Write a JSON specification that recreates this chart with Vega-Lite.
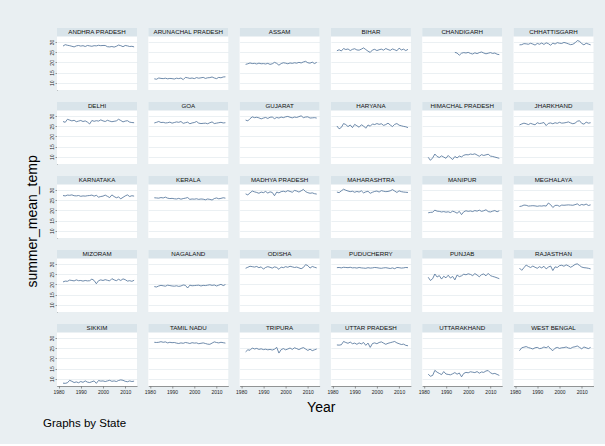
{
"$schema":"https://vega.github.io/schema/vega-lite/v6.json",
"background":"#e9eff2",
"padding":{"left":25,"top":27,"right":11,"bottom":14},
"title":{"text":"Graphs by State","orient":"bottom","anchor":"start","fontSize":11.5,"font":"Liberation Sans","fontWeight":"normal","color":"#000","offset":3,"dx":17},
"datasets":{"temps":[
{"State":"ANDHRA PRADESH","Year":1982,"t":28.0},{"State":"ANDHRA PRADESH","Year":1983,"t":28.7},{"State":"ANDHRA PRADESH","Year":1984,"t":28.4},{"State":"ANDHRA PRADESH","Year":1985,"t":28.2},{"State":"ANDHRA PRADESH","Year":1986,"t":27.9},{"State":"ANDHRA PRADESH","Year":1987,"t":27.6},{"State":"ANDHRA PRADESH","Year":1988,"t":28.1},{"State":"ANDHRA PRADESH","Year":1989,"t":28.3},{"State":"ANDHRA PRADESH","Year":1990,"t":28.0},{"State":"ANDHRA PRADESH","Year":1991,"t":28.2},{"State":"ANDHRA PRADESH","Year":1992,"t":27.8},{"State":"ANDHRA PRADESH","Year":1993,"t":28.3},{"State":"ANDHRA PRADESH","Year":1994,"t":28.1},{"State":"ANDHRA PRADESH","Year":1995,"t":27.9},{"State":"ANDHRA PRADESH","Year":1996,"t":28.2},{"State":"ANDHRA PRADESH","Year":1997,"t":28.1},{"State":"ANDHRA PRADESH","Year":1998,"t":28.4},{"State":"ANDHRA PRADESH","Year":1999,"t":28.2},{"State":"ANDHRA PRADESH","Year":2000,"t":28.3},{"State":"ANDHRA PRADESH","Year":2001,"t":28.3},{"State":"ANDHRA PRADESH","Year":2002,"t":27.7},{"State":"ANDHRA PRADESH","Year":2003,"t":27.6},{"State":"ANDHRA PRADESH","Year":2004,"t":27.8},{"State":"ANDHRA PRADESH","Year":2005,"t":27.5},{"State":"ANDHRA PRADESH","Year":2006,"t":27.9},{"State":"ANDHRA PRADESH","Year":2007,"t":28.5},{"State":"ANDHRA PRADESH","Year":2008,"t":28.2},{"State":"ANDHRA PRADESH","Year":2009,"t":27.7},{"State":"ANDHRA PRADESH","Year":2010,"t":28.3},{"State":"ANDHRA PRADESH","Year":2011,"t":28.1},{"State":"ANDHRA PRADESH","Year":2012,"t":27.8},{"State":"ANDHRA PRADESH","Year":2013,"t":27.9},{"State":"ANDHRA PRADESH","Year":2014,"t":27.6},
{"State":"ARUNACHAL PRADESH","Year":1982,"t":11.9},{"State":"ARUNACHAL PRADESH","Year":1983,"t":11.7},{"State":"ARUNACHAL PRADESH","Year":1984,"t":12.3},{"State":"ARUNACHAL PRADESH","Year":1985,"t":12.1},{"State":"ARUNACHAL PRADESH","Year":1986,"t":12.0},{"State":"ARUNACHAL PRADESH","Year":1987,"t":12.2},{"State":"ARUNACHAL PRADESH","Year":1988,"t":11.9},{"State":"ARUNACHAL PRADESH","Year":1989,"t":12.1},{"State":"ARUNACHAL PRADESH","Year":1990,"t":12.0},{"State":"ARUNACHAL PRADESH","Year":1991,"t":11.8},{"State":"ARUNACHAL PRADESH","Year":1992,"t":12.2},{"State":"ARUNACHAL PRADESH","Year":1993,"t":12.0},{"State":"ARUNACHAL PRADESH","Year":1994,"t":12.3},{"State":"ARUNACHAL PRADESH","Year":1995,"t":11.5},{"State":"ARUNACHAL PRADESH","Year":1996,"t":12.6},{"State":"ARUNACHAL PRADESH","Year":1997,"t":12.4},{"State":"ARUNACHAL PRADESH","Year":1998,"t":12.1},{"State":"ARUNACHAL PRADESH","Year":1999,"t":12.3},{"State":"ARUNACHAL PRADESH","Year":2000,"t":12.0},{"State":"ARUNACHAL PRADESH","Year":2001,"t":12.5},{"State":"ARUNACHAL PRADESH","Year":2002,"t":12.2},{"State":"ARUNACHAL PRADESH","Year":2003,"t":12.4},{"State":"ARUNACHAL PRADESH","Year":2004,"t":12.6},{"State":"ARUNACHAL PRADESH","Year":2005,"t":12.1},{"State":"ARUNACHAL PRADESH","Year":2006,"t":12.4},{"State":"ARUNACHAL PRADESH","Year":2007,"t":12.5},{"State":"ARUNACHAL PRADESH","Year":2008,"t":12.8},{"State":"ARUNACHAL PRADESH","Year":2009,"t":12.3},{"State":"ARUNACHAL PRADESH","Year":2010,"t":12.0},{"State":"ARUNACHAL PRADESH","Year":2011,"t":12.6},{"State":"ARUNACHAL PRADESH","Year":2012,"t":12.4},{"State":"ARUNACHAL PRADESH","Year":2013,"t":12.8},{"State":"ARUNACHAL PRADESH","Year":2014,"t":12.9},
{"State":"ASSAM","Year":1982,"t":19.0},{"State":"ASSAM","Year":1983,"t":19.3},{"State":"ASSAM","Year":1984,"t":19.7},{"State":"ASSAM","Year":1985,"t":19.4},{"State":"ASSAM","Year":1986,"t":19.5},{"State":"ASSAM","Year":1987,"t":19.2},{"State":"ASSAM","Year":1988,"t":19.6},{"State":"ASSAM","Year":1989,"t":19.3},{"State":"ASSAM","Year":1990,"t":19.4},{"State":"ASSAM","Year":1991,"t":19.2},{"State":"ASSAM","Year":1992,"t":19.5},{"State":"ASSAM","Year":1993,"t":19.0},{"State":"ASSAM","Year":1994,"t":19.3},{"State":"ASSAM","Year":1995,"t":20.0},{"State":"ASSAM","Year":1996,"t":19.5},{"State":"ASSAM","Year":1997,"t":18.6},{"State":"ASSAM","Year":1998,"t":19.4},{"State":"ASSAM","Year":1999,"t":19.8},{"State":"ASSAM","Year":2000,"t":19.6},{"State":"ASSAM","Year":2001,"t":19.3},{"State":"ASSAM","Year":2002,"t":19.7},{"State":"ASSAM","Year":2003,"t":19.5},{"State":"ASSAM","Year":2004,"t":19.8},{"State":"ASSAM","Year":2005,"t":19.6},{"State":"ASSAM","Year":2006,"t":20.0},{"State":"ASSAM","Year":2007,"t":19.7},{"State":"ASSAM","Year":2008,"t":20.2},{"State":"ASSAM","Year":2009,"t":20.5},{"State":"ASSAM","Year":2010,"t":19.8},{"State":"ASSAM","Year":2011,"t":19.6},{"State":"ASSAM","Year":2012,"t":20.1},{"State":"ASSAM","Year":2013,"t":19.4},{"State":"ASSAM","Year":2014,"t":20.0},
{"State":"BIHAR","Year":1982,"t":25.7},{"State":"BIHAR","Year":1983,"t":26.2},{"State":"BIHAR","Year":1984,"t":25.6},{"State":"BIHAR","Year":1985,"t":26.8},{"State":"BIHAR","Year":1986,"t":26.3},{"State":"BIHAR","Year":1987,"t":26.6},{"State":"BIHAR","Year":1988,"t":25.8},{"State":"BIHAR","Year":1989,"t":26.4},{"State":"BIHAR","Year":1990,"t":26.7},{"State":"BIHAR","Year":1991,"t":26.1},{"State":"BIHAR","Year":1992,"t":26.0},{"State":"BIHAR","Year":1993,"t":26.5},{"State":"BIHAR","Year":1994,"t":27.1},{"State":"BIHAR","Year":1995,"t":26.3},{"State":"BIHAR","Year":1996,"t":25.5},{"State":"BIHAR","Year":1997,"t":24.9},{"State":"BIHAR","Year":1998,"t":26.1},{"State":"BIHAR","Year":1999,"t":26.4},{"State":"BIHAR","Year":2000,"t":25.8},{"State":"BIHAR","Year":2001,"t":26.2},{"State":"BIHAR","Year":2002,"t":26.5},{"State":"BIHAR","Year":2003,"t":26.0},{"State":"BIHAR","Year":2004,"t":26.8},{"State":"BIHAR","Year":2005,"t":26.3},{"State":"BIHAR","Year":2006,"t":25.9},{"State":"BIHAR","Year":2007,"t":26.6},{"State":"BIHAR","Year":2008,"t":26.2},{"State":"BIHAR","Year":2009,"t":25.7},{"State":"BIHAR","Year":2010,"t":27.0},{"State":"BIHAR","Year":2011,"t":26.1},{"State":"BIHAR","Year":2012,"t":26.5},{"State":"BIHAR","Year":2013,"t":25.8},{"State":"BIHAR","Year":2014,"t":26.4},
{"State":"CHANDIGARH","Year":1994,"t":24.9},{"State":"CHANDIGARH","Year":1995,"t":24.6},{"State":"CHANDIGARH","Year":1996,"t":23.5},{"State":"CHANDIGARH","Year":1997,"t":24.5},{"State":"CHANDIGARH","Year":1998,"t":24.8},{"State":"CHANDIGARH","Year":1999,"t":24.6},{"State":"CHANDIGARH","Year":2000,"t":24.9},{"State":"CHANDIGARH","Year":2001,"t":24.4},{"State":"CHANDIGARH","Year":2002,"t":24.1},{"State":"CHANDIGARH","Year":2003,"t":24.7},{"State":"CHANDIGARH","Year":2004,"t":24.3},{"State":"CHANDIGARH","Year":2005,"t":24.8},{"State":"CHANDIGARH","Year":2006,"t":25.1},{"State":"CHANDIGARH","Year":2007,"t":24.6},{"State":"CHANDIGARH","Year":2008,"t":24.2},{"State":"CHANDIGARH","Year":2009,"t":24.5},{"State":"CHANDIGARH","Year":2010,"t":24.8},{"State":"CHANDIGARH","Year":2011,"t":24.4},{"State":"CHANDIGARH","Year":2012,"t":24.6},{"State":"CHANDIGARH","Year":2013,"t":24.0},{"State":"CHANDIGARH","Year":2014,"t":23.8},
{"State":"CHHATTISGARH","Year":1982,"t":28.6},{"State":"CHHATTISGARH","Year":1983,"t":28.7},{"State":"CHHATTISGARH","Year":1984,"t":29.2},{"State":"CHHATTISGARH","Year":1985,"t":29.1},{"State":"CHHATTISGARH","Year":1986,"t":28.9},{"State":"CHHATTISGARH","Year":1987,"t":29.4},{"State":"CHHATTISGARH","Year":1988,"t":29.0},{"State":"CHHATTISGARH","Year":1989,"t":28.5},{"State":"CHHATTISGARH","Year":1990,"t":29.3},{"State":"CHHATTISGARH","Year":1991,"t":28.9},{"State":"CHHATTISGARH","Year":1992,"t":29.5},{"State":"CHHATTISGARH","Year":1993,"t":28.8},{"State":"CHHATTISGARH","Year":1994,"t":29.6},{"State":"CHHATTISGARH","Year":1995,"t":29.2},{"State":"CHHATTISGARH","Year":1996,"t":28.4},{"State":"CHHATTISGARH","Year":1997,"t":29.5},{"State":"CHHATTISGARH","Year":1998,"t":29.0},{"State":"CHHATTISGARH","Year":1999,"t":29.7},{"State":"CHHATTISGARH","Year":2000,"t":29.4},{"State":"CHHATTISGARH","Year":2001,"t":29.3},{"State":"CHHATTISGARH","Year":2002,"t":29.8},{"State":"CHHATTISGARH","Year":2003,"t":29.5},{"State":"CHHATTISGARH","Year":2004,"t":29.1},{"State":"CHHATTISGARH","Year":2005,"t":28.7},{"State":"CHHATTISGARH","Year":2006,"t":28.9},{"State":"CHHATTISGARH","Year":2007,"t":29.6},{"State":"CHHATTISGARH","Year":2008,"t":30.7},{"State":"CHHATTISGARH","Year":2009,"t":30.4},{"State":"CHHATTISGARH","Year":2010,"t":29.2},{"State":"CHHATTISGARH","Year":2011,"t":28.6},{"State":"CHHATTISGARH","Year":2012,"t":29.4},{"State":"CHHATTISGARH","Year":2013,"t":29.0},{"State":"CHHATTISGARH","Year":2014,"t":28.6},
{"State":"DELHI","Year":1982,"t":27.3},{"State":"DELHI","Year":1983,"t":26.9},{"State":"DELHI","Year":1984,"t":28.4},{"State":"DELHI","Year":1985,"t":28.0},{"State":"DELHI","Year":1986,"t":27.6},{"State":"DELHI","Year":1987,"t":27.9},{"State":"DELHI","Year":1988,"t":27.2},{"State":"DELHI","Year":1989,"t":27.5},{"State":"DELHI","Year":1990,"t":27.8},{"State":"DELHI","Year":1991,"t":27.3},{"State":"DELHI","Year":1992,"t":27.6},{"State":"DELHI","Year":1993,"t":27.0},{"State":"DELHI","Year":1994,"t":26.1},{"State":"DELHI","Year":1995,"t":27.8},{"State":"DELHI","Year":1996,"t":27.4},{"State":"DELHI","Year":1997,"t":27.7},{"State":"DELHI","Year":1998,"t":27.5},{"State":"DELHI","Year":1999,"t":28.1},{"State":"DELHI","Year":2000,"t":27.6},{"State":"DELHI","Year":2001,"t":27.3},{"State":"DELHI","Year":2002,"t":27.9},{"State":"DELHI","Year":2003,"t":27.5},{"State":"DELHI","Year":2004,"t":27.2},{"State":"DELHI","Year":2005,"t":27.4},{"State":"DELHI","Year":2006,"t":27.6},{"State":"DELHI","Year":2007,"t":28.4},{"State":"DELHI","Year":2008,"t":27.8},{"State":"DELHI","Year":2009,"t":27.1},{"State":"DELHI","Year":2010,"t":27.5},{"State":"DELHI","Year":2011,"t":27.7},{"State":"DELHI","Year":2012,"t":27.0},{"State":"DELHI","Year":2013,"t":26.8},{"State":"DELHI","Year":2014,"t":26.7},
{"State":"GOA","Year":1982,"t":26.6},{"State":"GOA","Year":1983,"t":26.9},{"State":"GOA","Year":1984,"t":27.3},{"State":"GOA","Year":1985,"t":26.8},{"State":"GOA","Year":1986,"t":26.9},{"State":"GOA","Year":1987,"t":26.6},{"State":"GOA","Year":1988,"t":26.7},{"State":"GOA","Year":1989,"t":27.0},{"State":"GOA","Year":1990,"t":26.5},{"State":"GOA","Year":1991,"t":26.8},{"State":"GOA","Year":1992,"t":27.1},{"State":"GOA","Year":1993,"t":26.9},{"State":"GOA","Year":1994,"t":27.3},{"State":"GOA","Year":1995,"t":26.4},{"State":"GOA","Year":1996,"t":26.7},{"State":"GOA","Year":1997,"t":27.0},{"State":"GOA","Year":1998,"t":26.2},{"State":"GOA","Year":1999,"t":26.6},{"State":"GOA","Year":2000,"t":26.8},{"State":"GOA","Year":2001,"t":27.3},{"State":"GOA","Year":2002,"t":26.5},{"State":"GOA","Year":2003,"t":26.3},{"State":"GOA","Year":2004,"t":26.4},{"State":"GOA","Year":2005,"t":26.5},{"State":"GOA","Year":2006,"t":26.2},{"State":"GOA","Year":2007,"t":26.7},{"State":"GOA","Year":2008,"t":27.1},{"State":"GOA","Year":2009,"t":26.3},{"State":"GOA","Year":2010,"t":26.5},{"State":"GOA","Year":2011,"t":26.7},{"State":"GOA","Year":2012,"t":26.9},{"State":"GOA","Year":2013,"t":26.6},{"State":"GOA","Year":2014,"t":26.7},
{"State":"GUJARAT","Year":1982,"t":28.0},{"State":"GUJARAT","Year":1983,"t":27.6},{"State":"GUJARAT","Year":1984,"t":28.7},{"State":"GUJARAT","Year":1985,"t":29.6},{"State":"GUJARAT","Year":1986,"t":29.2},{"State":"GUJARAT","Year":1987,"t":29.4},{"State":"GUJARAT","Year":1988,"t":29.1},{"State":"GUJARAT","Year":1989,"t":28.6},{"State":"GUJARAT","Year":1990,"t":29.0},{"State":"GUJARAT","Year":1991,"t":29.3},{"State":"GUJARAT","Year":1992,"t":28.8},{"State":"GUJARAT","Year":1993,"t":29.4},{"State":"GUJARAT","Year":1994,"t":29.5},{"State":"GUJARAT","Year":1995,"t":28.7},{"State":"GUJARAT","Year":1996,"t":29.3},{"State":"GUJARAT","Year":1997,"t":29.0},{"State":"GUJARAT","Year":1998,"t":29.5},{"State":"GUJARAT","Year":1999,"t":29.2},{"State":"GUJARAT","Year":2000,"t":29.6},{"State":"GUJARAT","Year":2001,"t":29.8},{"State":"GUJARAT","Year":2002,"t":29.4},{"State":"GUJARAT","Year":2003,"t":29.1},{"State":"GUJARAT","Year":2004,"t":29.5},{"State":"GUJARAT","Year":2005,"t":29.3},{"State":"GUJARAT","Year":2006,"t":29.7},{"State":"GUJARAT","Year":2007,"t":30.1},{"State":"GUJARAT","Year":2008,"t":29.2},{"State":"GUJARAT","Year":2009,"t":29.5},{"State":"GUJARAT","Year":2010,"t":29.6},{"State":"GUJARAT","Year":2011,"t":29.0},{"State":"GUJARAT","Year":2012,"t":29.1},{"State":"GUJARAT","Year":2013,"t":29.2},{"State":"GUJARAT","Year":2014,"t":29.0},
{"State":"HARYANA","Year":1982,"t":25.1},{"State":"HARYANA","Year":1983,"t":23.7},{"State":"HARYANA","Year":1984,"t":24.4},{"State":"HARYANA","Year":1985,"t":26.3},{"State":"HARYANA","Year":1986,"t":25.8},{"State":"HARYANA","Year":1987,"t":24.8},{"State":"HARYANA","Year":1988,"t":25.6},{"State":"HARYANA","Year":1989,"t":24.3},{"State":"HARYANA","Year":1990,"t":25.9},{"State":"HARYANA","Year":1991,"t":25.2},{"State":"HARYANA","Year":1992,"t":24.5},{"State":"HARYANA","Year":1993,"t":25.7},{"State":"HARYANA","Year":1994,"t":25.1},{"State":"HARYANA","Year":1995,"t":24.0},{"State":"HARYANA","Year":1996,"t":25.6},{"State":"HARYANA","Year":1997,"t":25.0},{"State":"HARYANA","Year":1998,"t":26.1},{"State":"HARYANA","Year":1999,"t":25.8},{"State":"HARYANA","Year":2000,"t":26.3},{"State":"HARYANA","Year":2001,"t":25.9},{"State":"HARYANA","Year":2002,"t":26.2},{"State":"HARYANA","Year":2003,"t":25.4},{"State":"HARYANA","Year":2004,"t":25.8},{"State":"HARYANA","Year":2005,"t":26.5},{"State":"HARYANA","Year":2006,"t":25.6},{"State":"HARYANA","Year":2007,"t":24.8},{"State":"HARYANA","Year":2008,"t":25.9},{"State":"HARYANA","Year":2009,"t":26.3},{"State":"HARYANA","Year":2010,"t":25.5},{"State":"HARYANA","Year":2011,"t":25.2},{"State":"HARYANA","Year":2012,"t":24.9},{"State":"HARYANA","Year":2013,"t":24.7},{"State":"HARYANA","Year":2014,"t":24.3},
{"State":"HIMACHAL PRADESH","Year":1982,"t":9.7},{"State":"HIMACHAL PRADESH","Year":1983,"t":8.2},{"State":"HIMACHAL PRADESH","Year":1984,"t":9.4},{"State":"HIMACHAL PRADESH","Year":1985,"t":11.3},{"State":"HIMACHAL PRADESH","Year":1986,"t":10.1},{"State":"HIMACHAL PRADESH","Year":1987,"t":9.6},{"State":"HIMACHAL PRADESH","Year":1988,"t":10.4},{"State":"HIMACHAL PRADESH","Year":1989,"t":9.8},{"State":"HIMACHAL PRADESH","Year":1990,"t":9.2},{"State":"HIMACHAL PRADESH","Year":1991,"t":10.6},{"State":"HIMACHAL PRADESH","Year":1992,"t":9.5},{"State":"HIMACHAL PRADESH","Year":1993,"t":8.6},{"State":"HIMACHAL PRADESH","Year":1994,"t":10.1},{"State":"HIMACHAL PRADESH","Year":1995,"t":9.4},{"State":"HIMACHAL PRADESH","Year":1996,"t":10.3},{"State":"HIMACHAL PRADESH","Year":1997,"t":9.9},{"State":"HIMACHAL PRADESH","Year":1998,"t":10.7},{"State":"HIMACHAL PRADESH","Year":1999,"t":11.0},{"State":"HIMACHAL PRADESH","Year":2000,"t":10.9},{"State":"HIMACHAL PRADESH","Year":2001,"t":11.3},{"State":"HIMACHAL PRADESH","Year":2002,"t":11.1},{"State":"HIMACHAL PRADESH","Year":2003,"t":11.4},{"State":"HIMACHAL PRADESH","Year":2004,"t":10.8},{"State":"HIMACHAL PRADESH","Year":2005,"t":10.2},{"State":"HIMACHAL PRADESH","Year":2006,"t":11.0},{"State":"HIMACHAL PRADESH","Year":2007,"t":10.6},{"State":"HIMACHAL PRADESH","Year":2008,"t":10.9},{"State":"HIMACHAL PRADESH","Year":2009,"t":11.2},{"State":"HIMACHAL PRADESH","Year":2010,"t":10.3},{"State":"HIMACHAL PRADESH","Year":2011,"t":10.1},{"State":"HIMACHAL PRADESH","Year":2012,"t":9.8},{"State":"HIMACHAL PRADESH","Year":2013,"t":9.5},{"State":"HIMACHAL PRADESH","Year":2014,"t":9.2},
{"State":"JHARKHAND","Year":1982,"t":25.6},{"State":"JHARKHAND","Year":1983,"t":26.1},{"State":"JHARKHAND","Year":1984,"t":26.5},{"State":"JHARKHAND","Year":1985,"t":26.2},{"State":"JHARKHAND","Year":1986,"t":25.8},{"State":"JHARKHAND","Year":1987,"t":26.4},{"State":"JHARKHAND","Year":1988,"t":26.0},{"State":"JHARKHAND","Year":1989,"t":25.7},{"State":"JHARKHAND","Year":1990,"t":26.7},{"State":"JHARKHAND","Year":1991,"t":26.3},{"State":"JHARKHAND","Year":1992,"t":26.5},{"State":"JHARKHAND","Year":1993,"t":26.8},{"State":"JHARKHAND","Year":1994,"t":25.3},{"State":"JHARKHAND","Year":1995,"t":26.4},{"State":"JHARKHAND","Year":1996,"t":26.6},{"State":"JHARKHAND","Year":1997,"t":26.2},{"State":"JHARKHAND","Year":1998,"t":26.7},{"State":"JHARKHAND","Year":1999,"t":26.4},{"State":"JHARKHAND","Year":2000,"t":26.9},{"State":"JHARKHAND","Year":2001,"t":26.5},{"State":"JHARKHAND","Year":2002,"t":26.6},{"State":"JHARKHAND","Year":2003,"t":26.8},{"State":"JHARKHAND","Year":2004,"t":27.1},{"State":"JHARKHAND","Year":2005,"t":26.6},{"State":"JHARKHAND","Year":2006,"t":26.2},{"State":"JHARKHAND","Year":2007,"t":26.5},{"State":"JHARKHAND","Year":2008,"t":27.4},{"State":"JHARKHAND","Year":2009,"t":27.7},{"State":"JHARKHAND","Year":2010,"t":26.4},{"State":"JHARKHAND","Year":2011,"t":26.0},{"State":"JHARKHAND","Year":2012,"t":27.0},{"State":"JHARKHAND","Year":2013,"t":26.5},{"State":"JHARKHAND","Year":2014,"t":26.7},
{"State":"KARNATAKA","Year":1982,"t":27.3},{"State":"KARNATAKA","Year":1983,"t":27.1},{"State":"KARNATAKA","Year":1984,"t":27.5},{"State":"KARNATAKA","Year":1985,"t":27.4},{"State":"KARNATAKA","Year":1986,"t":27.6},{"State":"KARNATAKA","Year":1987,"t":27.2},{"State":"KARNATAKA","Year":1988,"t":27.1},{"State":"KARNATAKA","Year":1989,"t":27.3},{"State":"KARNATAKA","Year":1990,"t":26.9},{"State":"KARNATAKA","Year":1991,"t":27.1},{"State":"KARNATAKA","Year":1992,"t":27.0},{"State":"KARNATAKA","Year":1993,"t":27.2},{"State":"KARNATAKA","Year":1994,"t":27.3},{"State":"KARNATAKA","Year":1995,"t":27.5},{"State":"KARNATAKA","Year":1996,"t":27.0},{"State":"KARNATAKA","Year":1997,"t":27.4},{"State":"KARNATAKA","Year":1998,"t":26.5},{"State":"KARNATAKA","Year":1999,"t":26.8},{"State":"KARNATAKA","Year":2000,"t":27.0},{"State":"KARNATAKA","Year":2001,"t":27.5},{"State":"KARNATAKA","Year":2002,"t":26.9},{"State":"KARNATAKA","Year":2003,"t":26.3},{"State":"KARNATAKA","Year":2004,"t":27.6},{"State":"KARNATAKA","Year":2005,"t":26.8},{"State":"KARNATAKA","Year":2006,"t":26.2},{"State":"KARNATAKA","Year":2007,"t":26.6},{"State":"KARNATAKA","Year":2008,"t":25.7},{"State":"KARNATAKA","Year":2009,"t":26.4},{"State":"KARNATAKA","Year":2010,"t":27.1},{"State":"KARNATAKA","Year":2011,"t":27.6},{"State":"KARNATAKA","Year":2012,"t":26.8},{"State":"KARNATAKA","Year":2013,"t":27.2},{"State":"KARNATAKA","Year":2014,"t":27.0},
{"State":"KERALA","Year":1982,"t":26.2},{"State":"KERALA","Year":1983,"t":26.1},{"State":"KERALA","Year":1984,"t":26.0},{"State":"KERALA","Year":1985,"t":26.3},{"State":"KERALA","Year":1986,"t":26.1},{"State":"KERALA","Year":1987,"t":26.5},{"State":"KERALA","Year":1988,"t":26.0},{"State":"KERALA","Year":1989,"t":25.8},{"State":"KERALA","Year":1990,"t":25.9},{"State":"KERALA","Year":1991,"t":25.7},{"State":"KERALA","Year":1992,"t":25.6},{"State":"KERALA","Year":1993,"t":25.9},{"State":"KERALA","Year":1994,"t":25.5},{"State":"KERALA","Year":1995,"t":25.8},{"State":"KERALA","Year":1996,"t":26.0},{"State":"KERALA","Year":1997,"t":26.3},{"State":"KERALA","Year":1998,"t":25.4},{"State":"KERALA","Year":1999,"t":25.6},{"State":"KERALA","Year":2000,"t":25.5},{"State":"KERALA","Year":2001,"t":25.7},{"State":"KERALA","Year":2002,"t":25.4},{"State":"KERALA","Year":2003,"t":25.6},{"State":"KERALA","Year":2004,"t":25.5},{"State":"KERALA","Year":2005,"t":25.2},{"State":"KERALA","Year":2006,"t":25.6},{"State":"KERALA","Year":2007,"t":25.4},{"State":"KERALA","Year":2008,"t":25.1},{"State":"KERALA","Year":2009,"t":25.8},{"State":"KERALA","Year":2010,"t":26.1},{"State":"KERALA","Year":2011,"t":25.7},{"State":"KERALA","Year":2012,"t":25.9},{"State":"KERALA","Year":2013,"t":26.2},{"State":"KERALA","Year":2014,"t":26.0},
{"State":"MADHYA PRADESH","Year":1982,"t":28.1},{"State":"MADHYA PRADESH","Year":1983,"t":27.6},{"State":"MADHYA PRADESH","Year":1984,"t":28.6},{"State":"MADHYA PRADESH","Year":1985,"t":29.5},{"State":"MADHYA PRADESH","Year":1986,"t":29.1},{"State":"MADHYA PRADESH","Year":1987,"t":28.8},{"State":"MADHYA PRADESH","Year":1988,"t":28.4},{"State":"MADHYA PRADESH","Year":1989,"t":29.0},{"State":"MADHYA PRADESH","Year":1990,"t":28.7},{"State":"MADHYA PRADESH","Year":1991,"t":29.3},{"State":"MADHYA PRADESH","Year":1992,"t":28.5},{"State":"MADHYA PRADESH","Year":1993,"t":29.1},{"State":"MADHYA PRADESH","Year":1994,"t":28.8},{"State":"MADHYA PRADESH","Year":1995,"t":27.2},{"State":"MADHYA PRADESH","Year":1996,"t":29.0},{"State":"MADHYA PRADESH","Year":1997,"t":28.6},{"State":"MADHYA PRADESH","Year":1998,"t":29.2},{"State":"MADHYA PRADESH","Year":1999,"t":29.4},{"State":"MADHYA PRADESH","Year":2000,"t":29.1},{"State":"MADHYA PRADESH","Year":2001,"t":29.7},{"State":"MADHYA PRADESH","Year":2002,"t":29.3},{"State":"MADHYA PRADESH","Year":2003,"t":28.9},{"State":"MADHYA PRADESH","Year":2004,"t":29.8},{"State":"MADHYA PRADESH","Year":2005,"t":29.5},{"State":"MADHYA PRADESH","Year":2006,"t":29.0},{"State":"MADHYA PRADESH","Year":2007,"t":29.6},{"State":"MADHYA PRADESH","Year":2008,"t":30.3},{"State":"MADHYA PRADESH","Year":2009,"t":29.2},{"State":"MADHYA PRADESH","Year":2010,"t":28.7},{"State":"MADHYA PRADESH","Year":2011,"t":28.4},{"State":"MADHYA PRADESH","Year":2012,"t":28.6},{"State":"MADHYA PRADESH","Year":2013,"t":28.2},{"State":"MADHYA PRADESH","Year":2014,"t":28.0},
{"State":"MAHARASHTRA","Year":1982,"t":29.0},{"State":"MAHARASHTRA","Year":1983,"t":28.7},{"State":"MAHARASHTRA","Year":1984,"t":29.6},{"State":"MAHARASHTRA","Year":1985,"t":30.4},{"State":"MAHARASHTRA","Year":1986,"t":29.9},{"State":"MAHARASHTRA","Year":1987,"t":29.5},{"State":"MAHARASHTRA","Year":1988,"t":29.2},{"State":"MAHARASHTRA","Year":1989,"t":29.4},{"State":"MAHARASHTRA","Year":1990,"t":28.9},{"State":"MAHARASHTRA","Year":1991,"t":29.3},{"State":"MAHARASHTRA","Year":1992,"t":29.0},{"State":"MAHARASHTRA","Year":1993,"t":29.6},{"State":"MAHARASHTRA","Year":1994,"t":28.6},{"State":"MAHARASHTRA","Year":1995,"t":29.1},{"State":"MAHARASHTRA","Year":1996,"t":29.4},{"State":"MAHARASHTRA","Year":1997,"t":28.4},{"State":"MAHARASHTRA","Year":1998,"t":28.9},{"State":"MAHARASHTRA","Year":1999,"t":29.3},{"State":"MAHARASHTRA","Year":2000,"t":29.5},{"State":"MAHARASHTRA","Year":2001,"t":29.0},{"State":"MAHARASHTRA","Year":2002,"t":29.7},{"State":"MAHARASHTRA","Year":2003,"t":29.4},{"State":"MAHARASHTRA","Year":2004,"t":29.2},{"State":"MAHARASHTRA","Year":2005,"t":29.3},{"State":"MAHARASHTRA","Year":2006,"t":29.6},{"State":"MAHARASHTRA","Year":2007,"t":30.2},{"State":"MAHARASHTRA","Year":2008,"t":29.5},{"State":"MAHARASHTRA","Year":2009,"t":28.8},{"State":"MAHARASHTRA","Year":2010,"t":29.6},{"State":"MAHARASHTRA","Year":2011,"t":29.2},{"State":"MAHARASHTRA","Year":2012,"t":29.0},{"State":"MAHARASHTRA","Year":2013,"t":28.9},{"State":"MAHARASHTRA","Year":2014,"t":28.8},
{"State":"MANIPUR","Year":1982,"t":18.8},{"State":"MANIPUR","Year":1983,"t":19.0},{"State":"MANIPUR","Year":1984,"t":19.1},{"State":"MANIPUR","Year":1985,"t":20.1},{"State":"MANIPUR","Year":1986,"t":19.6},{"State":"MANIPUR","Year":1987,"t":19.5},{"State":"MANIPUR","Year":1988,"t":19.2},{"State":"MANIPUR","Year":1989,"t":19.4},{"State":"MANIPUR","Year":1990,"t":19.1},{"State":"MANIPUR","Year":1991,"t":19.3},{"State":"MANIPUR","Year":1992,"t":18.9},{"State":"MANIPUR","Year":1993,"t":19.6},{"State":"MANIPUR","Year":1994,"t":19.2},{"State":"MANIPUR","Year":1995,"t":18.6},{"State":"MANIPUR","Year":1996,"t":19.5},{"State":"MANIPUR","Year":1997,"t":17.9},{"State":"MANIPUR","Year":1998,"t":19.3},{"State":"MANIPUR","Year":1999,"t":19.8},{"State":"MANIPUR","Year":2000,"t":19.5},{"State":"MANIPUR","Year":2001,"t":19.7},{"State":"MANIPUR","Year":2002,"t":19.4},{"State":"MANIPUR","Year":2003,"t":19.9},{"State":"MANIPUR","Year":2004,"t":19.6},{"State":"MANIPUR","Year":2005,"t":20.1},{"State":"MANIPUR","Year":2006,"t":19.5},{"State":"MANIPUR","Year":2007,"t":19.8},{"State":"MANIPUR","Year":2008,"t":20.3},{"State":"MANIPUR","Year":2009,"t":19.4},{"State":"MANIPUR","Year":2010,"t":19.2},{"State":"MANIPUR","Year":2011,"t":19.6},{"State":"MANIPUR","Year":2012,"t":19.9},{"State":"MANIPUR","Year":2013,"t":19.3},{"State":"MANIPUR","Year":2014,"t":19.8},
{"State":"MEGHALAYA","Year":1982,"t":21.9},{"State":"MEGHALAYA","Year":1983,"t":22.1},{"State":"MEGHALAYA","Year":1984,"t":22.6},{"State":"MEGHALAYA","Year":1985,"t":22.5},{"State":"MEGHALAYA","Year":1986,"t":22.1},{"State":"MEGHALAYA","Year":1987,"t":22.2},{"State":"MEGHALAYA","Year":1988,"t":22.3},{"State":"MEGHALAYA","Year":1989,"t":22.2},{"State":"MEGHALAYA","Year":1990,"t":22.0},{"State":"MEGHALAYA","Year":1991,"t":22.2},{"State":"MEGHALAYA","Year":1992,"t":22.1},{"State":"MEGHALAYA","Year":1993,"t":22.3},{"State":"MEGHALAYA","Year":1994,"t":22.1},{"State":"MEGHALAYA","Year":1995,"t":23.6},{"State":"MEGHALAYA","Year":1996,"t":22.8},{"State":"MEGHALAYA","Year":1997,"t":21.4},{"State":"MEGHALAYA","Year":1998,"t":22.4},{"State":"MEGHALAYA","Year":1999,"t":22.5},{"State":"MEGHALAYA","Year":2000,"t":22.0},{"State":"MEGHALAYA","Year":2001,"t":22.6},{"State":"MEGHALAYA","Year":2002,"t":22.5},{"State":"MEGHALAYA","Year":2003,"t":22.6},{"State":"MEGHALAYA","Year":2004,"t":22.7},{"State":"MEGHALAYA","Year":2005,"t":22.6},{"State":"MEGHALAYA","Year":2006,"t":22.5},{"State":"MEGHALAYA","Year":2007,"t":22.8},{"State":"MEGHALAYA","Year":2008,"t":23.2},{"State":"MEGHALAYA","Year":2009,"t":22.4},{"State":"MEGHALAYA","Year":2010,"t":22.9},{"State":"MEGHALAYA","Year":2011,"t":22.6},{"State":"MEGHALAYA","Year":2012,"t":23.1},{"State":"MEGHALAYA","Year":2013,"t":22.4},{"State":"MEGHALAYA","Year":2014,"t":22.7},
{"State":"MIZORAM","Year":1982,"t":21.2},{"State":"MIZORAM","Year":1983,"t":21.6},{"State":"MIZORAM","Year":1984,"t":21.5},{"State":"MIZORAM","Year":1985,"t":22.1},{"State":"MIZORAM","Year":1986,"t":21.9},{"State":"MIZORAM","Year":1987,"t":21.7},{"State":"MIZORAM","Year":1988,"t":22.2},{"State":"MIZORAM","Year":1989,"t":21.8},{"State":"MIZORAM","Year":1990,"t":21.9},{"State":"MIZORAM","Year":1991,"t":21.6},{"State":"MIZORAM","Year":1992,"t":21.9},{"State":"MIZORAM","Year":1993,"t":21.7},{"State":"MIZORAM","Year":1994,"t":21.8},{"State":"MIZORAM","Year":1995,"t":22.6},{"State":"MIZORAM","Year":1996,"t":21.9},{"State":"MIZORAM","Year":1997,"t":20.3},{"State":"MIZORAM","Year":1998,"t":21.8},{"State":"MIZORAM","Year":1999,"t":22.2},{"State":"MIZORAM","Year":2000,"t":21.9},{"State":"MIZORAM","Year":2001,"t":22.3},{"State":"MIZORAM","Year":2002,"t":22.0},{"State":"MIZORAM","Year":2003,"t":21.7},{"State":"MIZORAM","Year":2004,"t":22.8},{"State":"MIZORAM","Year":2005,"t":22.2},{"State":"MIZORAM","Year":2006,"t":21.8},{"State":"MIZORAM","Year":2007,"t":22.5},{"State":"MIZORAM","Year":2008,"t":21.9},{"State":"MIZORAM","Year":2009,"t":22.7},{"State":"MIZORAM","Year":2010,"t":22.3},{"State":"MIZORAM","Year":2011,"t":21.6},{"State":"MIZORAM","Year":2012,"t":21.8},{"State":"MIZORAM","Year":2013,"t":21.5},{"State":"MIZORAM","Year":2014,"t":22.0},
{"State":"NAGALAND","Year":1982,"t":18.9},{"State":"NAGALAND","Year":1983,"t":18.7},{"State":"NAGALAND","Year":1984,"t":19.2},{"State":"NAGALAND","Year":1985,"t":19.5},{"State":"NAGALAND","Year":1986,"t":19.3},{"State":"NAGALAND","Year":1987,"t":19.1},{"State":"NAGALAND","Year":1988,"t":19.6},{"State":"NAGALAND","Year":1989,"t":19.4},{"State":"NAGALAND","Year":1990,"t":19.2},{"State":"NAGALAND","Year":1991,"t":19.1},{"State":"NAGALAND","Year":1992,"t":19.3},{"State":"NAGALAND","Year":1993,"t":19.0},{"State":"NAGALAND","Year":1994,"t":19.2},{"State":"NAGALAND","Year":1995,"t":19.7},{"State":"NAGALAND","Year":1996,"t":19.5},{"State":"NAGALAND","Year":1997,"t":18.2},{"State":"NAGALAND","Year":1998,"t":19.6},{"State":"NAGALAND","Year":1999,"t":19.3},{"State":"NAGALAND","Year":2000,"t":19.4},{"State":"NAGALAND","Year":2001,"t":19.5},{"State":"NAGALAND","Year":2002,"t":19.6},{"State":"NAGALAND","Year":2003,"t":19.2},{"State":"NAGALAND","Year":2004,"t":19.5},{"State":"NAGALAND","Year":2005,"t":19.4},{"State":"NAGALAND","Year":2006,"t":19.6},{"State":"NAGALAND","Year":2007,"t":19.8},{"State":"NAGALAND","Year":2008,"t":19.5},{"State":"NAGALAND","Year":2009,"t":19.7},{"State":"NAGALAND","Year":2010,"t":19.2},{"State":"NAGALAND","Year":2011,"t":19.6},{"State":"NAGALAND","Year":2012,"t":20.0},{"State":"NAGALAND","Year":2013,"t":19.4},{"State":"NAGALAND","Year":2014,"t":19.9},
{"State":"ODISHA","Year":1982,"t":27.9},{"State":"ODISHA","Year":1983,"t":28.4},{"State":"ODISHA","Year":1984,"t":28.9},{"State":"ODISHA","Year":1985,"t":28.7},{"State":"ODISHA","Year":1986,"t":28.5},{"State":"ODISHA","Year":1987,"t":28.8},{"State":"ODISHA","Year":1988,"t":28.2},{"State":"ODISHA","Year":1989,"t":28.6},{"State":"ODISHA","Year":1990,"t":27.5},{"State":"ODISHA","Year":1991,"t":28.3},{"State":"ODISHA","Year":1992,"t":28.7},{"State":"ODISHA","Year":1993,"t":28.4},{"State":"ODISHA","Year":1994,"t":28.0},{"State":"ODISHA","Year":1995,"t":28.6},{"State":"ODISHA","Year":1996,"t":28.3},{"State":"ODISHA","Year":1997,"t":27.4},{"State":"ODISHA","Year":1998,"t":28.5},{"State":"ODISHA","Year":1999,"t":28.2},{"State":"ODISHA","Year":2000,"t":28.7},{"State":"ODISHA","Year":2001,"t":28.4},{"State":"ODISHA","Year":2002,"t":28.9},{"State":"ODISHA","Year":2003,"t":28.6},{"State":"ODISHA","Year":2004,"t":28.3},{"State":"ODISHA","Year":2005,"t":28.5},{"State":"ODISHA","Year":2006,"t":28.1},{"State":"ODISHA","Year":2007,"t":27.7},{"State":"ODISHA","Year":2008,"t":28.3},{"State":"ODISHA","Year":2009,"t":29.7},{"State":"ODISHA","Year":2010,"t":29.2},{"State":"ODISHA","Year":2011,"t":28.0},{"State":"ODISHA","Year":2012,"t":28.8},{"State":"ODISHA","Year":2013,"t":28.4},{"State":"ODISHA","Year":2014,"t":28.1},
{"State":"PUDUCHERRY","Year":1982,"t":28.2},{"State":"PUDUCHERRY","Year":1983,"t":28.3},{"State":"PUDUCHERRY","Year":1984,"t":28.1},{"State":"PUDUCHERRY","Year":1985,"t":28.4},{"State":"PUDUCHERRY","Year":1986,"t":28.3},{"State":"PUDUCHERRY","Year":1987,"t":28.2},{"State":"PUDUCHERRY","Year":1988,"t":28.4},{"State":"PUDUCHERRY","Year":1989,"t":28.1},{"State":"PUDUCHERRY","Year":1990,"t":28.2},{"State":"PUDUCHERRY","Year":1991,"t":28.0},{"State":"PUDUCHERRY","Year":1992,"t":28.3},{"State":"PUDUCHERRY","Year":1993,"t":28.1},{"State":"PUDUCHERRY","Year":1994,"t":28.0},{"State":"PUDUCHERRY","Year":1995,"t":27.9},{"State":"PUDUCHERRY","Year":1996,"t":28.2},{"State":"PUDUCHERRY","Year":1997,"t":28.0},{"State":"PUDUCHERRY","Year":1998,"t":28.1},{"State":"PUDUCHERRY","Year":1999,"t":28.3},{"State":"PUDUCHERRY","Year":2000,"t":28.2},{"State":"PUDUCHERRY","Year":2001,"t":28.0},{"State":"PUDUCHERRY","Year":2002,"t":27.9},{"State":"PUDUCHERRY","Year":2003,"t":28.1},{"State":"PUDUCHERRY","Year":2004,"t":28.2},{"State":"PUDUCHERRY","Year":2005,"t":28.0},{"State":"PUDUCHERRY","Year":2006,"t":27.8},{"State":"PUDUCHERRY","Year":2007,"t":28.1},{"State":"PUDUCHERRY","Year":2008,"t":27.7},{"State":"PUDUCHERRY","Year":2009,"t":28.3},{"State":"PUDUCHERRY","Year":2010,"t":28.2},{"State":"PUDUCHERRY","Year":2011,"t":28.0},{"State":"PUDUCHERRY","Year":2012,"t":28.1},{"State":"PUDUCHERRY","Year":2013,"t":28.3},{"State":"PUDUCHERRY","Year":2014,"t":28.2},
{"State":"PUNJAB","Year":1982,"t":23.5},{"State":"PUNJAB","Year":1983,"t":21.9},{"State":"PUNJAB","Year":1984,"t":22.8},{"State":"PUNJAB","Year":1985,"t":25.1},{"State":"PUNJAB","Year":1986,"t":23.6},{"State":"PUNJAB","Year":1987,"t":24.3},{"State":"PUNJAB","Year":1988,"t":22.6},{"State":"PUNJAB","Year":1989,"t":24.0},{"State":"PUNJAB","Year":1990,"t":23.2},{"State":"PUNJAB","Year":1991,"t":24.5},{"State":"PUNJAB","Year":1992,"t":23.1},{"State":"PUNJAB","Year":1993,"t":23.9},{"State":"PUNJAB","Year":1994,"t":22.2},{"State":"PUNJAB","Year":1995,"t":24.6},{"State":"PUNJAB","Year":1996,"t":23.8},{"State":"PUNJAB","Year":1997,"t":24.2},{"State":"PUNJAB","Year":1998,"t":25.0},{"State":"PUNJAB","Year":1999,"t":24.7},{"State":"PUNJAB","Year":2000,"t":25.2},{"State":"PUNJAB","Year":2001,"t":24.9},{"State":"PUNJAB","Year":2002,"t":24.3},{"State":"PUNJAB","Year":2003,"t":25.3},{"State":"PUNJAB","Year":2004,"t":24.6},{"State":"PUNJAB","Year":2005,"t":23.7},{"State":"PUNJAB","Year":2006,"t":24.8},{"State":"PUNJAB","Year":2007,"t":25.1},{"State":"PUNJAB","Year":2008,"t":24.2},{"State":"PUNJAB","Year":2009,"t":25.4},{"State":"PUNJAB","Year":2010,"t":24.3},{"State":"PUNJAB","Year":2011,"t":23.9},{"State":"PUNJAB","Year":2012,"t":23.6},{"State":"PUNJAB","Year":2013,"t":23.2},{"State":"PUNJAB","Year":2014,"t":22.8},
{"State":"RAJASTHAN","Year":1982,"t":28.0},{"State":"RAJASTHAN","Year":1983,"t":26.9},{"State":"RAJASTHAN","Year":1984,"t":28.2},{"State":"RAJASTHAN","Year":1985,"t":29.5},{"State":"RAJASTHAN","Year":1986,"t":28.8},{"State":"RAJASTHAN","Year":1987,"t":28.3},{"State":"RAJASTHAN","Year":1988,"t":29.0},{"State":"RAJASTHAN","Year":1989,"t":28.4},{"State":"RAJASTHAN","Year":1990,"t":27.9},{"State":"RAJASTHAN","Year":1991,"t":28.7},{"State":"RAJASTHAN","Year":1992,"t":28.1},{"State":"RAJASTHAN","Year":1993,"t":28.9},{"State":"RAJASTHAN","Year":1994,"t":27.6},{"State":"RAJASTHAN","Year":1995,"t":28.5},{"State":"RAJASTHAN","Year":1996,"t":29.0},{"State":"RAJASTHAN","Year":1997,"t":26.8},{"State":"RAJASTHAN","Year":1998,"t":28.6},{"State":"RAJASTHAN","Year":1999,"t":28.3},{"State":"RAJASTHAN","Year":2000,"t":29.2},{"State":"RAJASTHAN","Year":2001,"t":29.4},{"State":"RAJASTHAN","Year":2002,"t":28.9},{"State":"RAJASTHAN","Year":2003,"t":29.6},{"State":"RAJASTHAN","Year":2004,"t":29.1},{"State":"RAJASTHAN","Year":2005,"t":28.4},{"State":"RAJASTHAN","Year":2006,"t":29.0},{"State":"RAJASTHAN","Year":2007,"t":29.8},{"State":"RAJASTHAN","Year":2008,"t":30.1},{"State":"RAJASTHAN","Year":2009,"t":29.3},{"State":"RAJASTHAN","Year":2010,"t":28.5},{"State":"RAJASTHAN","Year":2011,"t":28.2},{"State":"RAJASTHAN","Year":2012,"t":28.1},{"State":"RAJASTHAN","Year":2013,"t":27.9},{"State":"RAJASTHAN","Year":2014,"t":27.6},
{"State":"SIKKIM","Year":1982,"t":7.8},{"State":"SIKKIM","Year":1983,"t":7.7},{"State":"SIKKIM","Year":1984,"t":8.0},{"State":"SIKKIM","Year":1985,"t":9.2},{"State":"SIKKIM","Year":1986,"t":8.7},{"State":"SIKKIM","Year":1987,"t":8.1},{"State":"SIKKIM","Year":1988,"t":8.4},{"State":"SIKKIM","Year":1989,"t":8.0},{"State":"SIKKIM","Year":1990,"t":8.6},{"State":"SIKKIM","Year":1991,"t":8.2},{"State":"SIKKIM","Year":1992,"t":8.9},{"State":"SIKKIM","Year":1993,"t":8.3},{"State":"SIKKIM","Year":1994,"t":8.1},{"State":"SIKKIM","Year":1995,"t":8.5},{"State":"SIKKIM","Year":1996,"t":8.9},{"State":"SIKKIM","Year":1997,"t":7.7},{"State":"SIKKIM","Year":1998,"t":9.1},{"State":"SIKKIM","Year":1999,"t":8.8},{"State":"SIKKIM","Year":2000,"t":8.9},{"State":"SIKKIM","Year":2001,"t":8.6},{"State":"SIKKIM","Year":2002,"t":8.9},{"State":"SIKKIM","Year":2003,"t":9.2},{"State":"SIKKIM","Year":2004,"t":8.7},{"State":"SIKKIM","Year":2005,"t":8.9},{"State":"SIKKIM","Year":2006,"t":8.6},{"State":"SIKKIM","Year":2007,"t":9.1},{"State":"SIKKIM","Year":2008,"t":9.4},{"State":"SIKKIM","Year":2009,"t":9.2},{"State":"SIKKIM","Year":2010,"t":8.7},{"State":"SIKKIM","Year":2011,"t":8.5},{"State":"SIKKIM","Year":2012,"t":8.9},{"State":"SIKKIM","Year":2013,"t":8.6},{"State":"SIKKIM","Year":2014,"t":8.8},
{"State":"TAMIL NADU","Year":1982,"t":27.9},{"State":"TAMIL NADU","Year":1983,"t":27.8},{"State":"TAMIL NADU","Year":1984,"t":27.9},{"State":"TAMIL NADU","Year":1985,"t":28.2},{"State":"TAMIL NADU","Year":1986,"t":27.9},{"State":"TAMIL NADU","Year":1987,"t":28.1},{"State":"TAMIL NADU","Year":1988,"t":27.6},{"State":"TAMIL NADU","Year":1989,"t":27.9},{"State":"TAMIL NADU","Year":1990,"t":27.7},{"State":"TAMIL NADU","Year":1991,"t":27.8},{"State":"TAMIL NADU","Year":1992,"t":27.5},{"State":"TAMIL NADU","Year":1993,"t":27.3},{"State":"TAMIL NADU","Year":1994,"t":27.6},{"State":"TAMIL NADU","Year":1995,"t":27.4},{"State":"TAMIL NADU","Year":1996,"t":27.8},{"State":"TAMIL NADU","Year":1997,"t":27.6},{"State":"TAMIL NADU","Year":1998,"t":27.3},{"State":"TAMIL NADU","Year":1999,"t":27.7},{"State":"TAMIL NADU","Year":2000,"t":27.5},{"State":"TAMIL NADU","Year":2001,"t":27.6},{"State":"TAMIL NADU","Year":2002,"t":27.2},{"State":"TAMIL NADU","Year":2003,"t":27.4},{"State":"TAMIL NADU","Year":2004,"t":27.6},{"State":"TAMIL NADU","Year":2005,"t":27.3},{"State":"TAMIL NADU","Year":2006,"t":27.0},{"State":"TAMIL NADU","Year":2007,"t":26.9},{"State":"TAMIL NADU","Year":2008,"t":27.5},{"State":"TAMIL NADU","Year":2009,"t":28.1},{"State":"TAMIL NADU","Year":2010,"t":27.8},{"State":"TAMIL NADU","Year":2011,"t":27.6},{"State":"TAMIL NADU","Year":2012,"t":27.9},{"State":"TAMIL NADU","Year":2013,"t":27.7},{"State":"TAMIL NADU","Year":2014,"t":27.5},
{"State":"TRIPURA","Year":1982,"t":23.2},{"State":"TRIPURA","Year":1983,"t":24.2},{"State":"TRIPURA","Year":1984,"t":24.0},{"State":"TRIPURA","Year":1985,"t":25.1},{"State":"TRIPURA","Year":1986,"t":24.6},{"State":"TRIPURA","Year":1987,"t":24.9},{"State":"TRIPURA","Year":1988,"t":24.4},{"State":"TRIPURA","Year":1989,"t":24.7},{"State":"TRIPURA","Year":1990,"t":24.3},{"State":"TRIPURA","Year":1991,"t":24.5},{"State":"TRIPURA","Year":1992,"t":24.2},{"State":"TRIPURA","Year":1993,"t":24.4},{"State":"TRIPURA","Year":1994,"t":24.1},{"State":"TRIPURA","Year":1995,"t":24.5},{"State":"TRIPURA","Year":1996,"t":25.4},{"State":"TRIPURA","Year":1997,"t":22.6},{"State":"TRIPURA","Year":1998,"t":24.3},{"State":"TRIPURA","Year":1999,"t":24.8},{"State":"TRIPURA","Year":2000,"t":24.2},{"State":"TRIPURA","Year":2001,"t":24.6},{"State":"TRIPURA","Year":2002,"t":25.1},{"State":"TRIPURA","Year":2003,"t":24.4},{"State":"TRIPURA","Year":2004,"t":25.2},{"State":"TRIPURA","Year":2005,"t":24.8},{"State":"TRIPURA","Year":2006,"t":24.3},{"State":"TRIPURA","Year":2007,"t":24.9},{"State":"TRIPURA","Year":2008,"t":25.3},{"State":"TRIPURA","Year":2009,"t":24.6},{"State":"TRIPURA","Year":2010,"t":23.9},{"State":"TRIPURA","Year":2011,"t":24.5},{"State":"TRIPURA","Year":2012,"t":23.8},{"State":"TRIPURA","Year":2013,"t":24.2},{"State":"TRIPURA","Year":2014,"t":24.6},
{"State":"UTTAR PRADESH","Year":1982,"t":26.6},{"State":"UTTAR PRADESH","Year":1983,"t":26.5},{"State":"UTTAR PRADESH","Year":1984,"t":26.7},{"State":"UTTAR PRADESH","Year":1985,"t":28.3},{"State":"UTTAR PRADESH","Year":1986,"t":27.8},{"State":"UTTAR PRADESH","Year":1987,"t":27.4},{"State":"UTTAR PRADESH","Year":1988,"t":28.0},{"State":"UTTAR PRADESH","Year":1989,"t":27.2},{"State":"UTTAR PRADESH","Year":1990,"t":27.5},{"State":"UTTAR PRADESH","Year":1991,"t":26.9},{"State":"UTTAR PRADESH","Year":1992,"t":27.6},{"State":"UTTAR PRADESH","Year":1993,"t":27.1},{"State":"UTTAR PRADESH","Year":1994,"t":27.8},{"State":"UTTAR PRADESH","Year":1995,"t":26.4},{"State":"UTTAR PRADESH","Year":1996,"t":27.5},{"State":"UTTAR PRADESH","Year":1997,"t":25.4},{"State":"UTTAR PRADESH","Year":1998,"t":27.3},{"State":"UTTAR PRADESH","Year":1999,"t":27.6},{"State":"UTTAR PRADESH","Year":2000,"t":27.2},{"State":"UTTAR PRADESH","Year":2001,"t":27.8},{"State":"UTTAR PRADESH","Year":2002,"t":28.1},{"State":"UTTAR PRADESH","Year":2003,"t":27.5},{"State":"UTTAR PRADESH","Year":2004,"t":26.9},{"State":"UTTAR PRADESH","Year":2005,"t":27.4},{"State":"UTTAR PRADESH","Year":2006,"t":27.7},{"State":"UTTAR PRADESH","Year":2007,"t":28.0},{"State":"UTTAR PRADESH","Year":2008,"t":28.3},{"State":"UTTAR PRADESH","Year":2009,"t":27.6},{"State":"UTTAR PRADESH","Year":2010,"t":27.2},{"State":"UTTAR PRADESH","Year":2011,"t":26.8},{"State":"UTTAR PRADESH","Year":2012,"t":27.0},{"State":"UTTAR PRADESH","Year":2013,"t":26.4},{"State":"UTTAR PRADESH","Year":2014,"t":26.2},
{"State":"UTTARAKHAND","Year":1982,"t":12.2},{"State":"UTTARAKHAND","Year":1983,"t":11.2},{"State":"UTTARAKHAND","Year":1984,"t":11.6},{"State":"UTTARAKHAND","Year":1985,"t":14.1},{"State":"UTTARAKHAND","Year":1986,"t":13.2},{"State":"UTTARAKHAND","Year":1987,"t":12.6},{"State":"UTTARAKHAND","Year":1988,"t":12.0},{"State":"UTTARAKHAND","Year":1989,"t":13.5},{"State":"UTTARAKHAND","Year":1990,"t":12.3},{"State":"UTTARAKHAND","Year":1991,"t":12.1},{"State":"UTTARAKHAND","Year":1992,"t":11.9},{"State":"UTTARAKHAND","Year":1993,"t":12.4},{"State":"UTTARAKHAND","Year":1994,"t":13.0},{"State":"UTTARAKHAND","Year":1995,"t":12.2},{"State":"UTTARAKHAND","Year":1996,"t":12.8},{"State":"UTTARAKHAND","Year":1997,"t":10.9},{"State":"UTTARAKHAND","Year":1998,"t":12.6},{"State":"UTTARAKHAND","Year":1999,"t":13.1},{"State":"UTTARAKHAND","Year":2000,"t":12.9},{"State":"UTTARAKHAND","Year":2001,"t":13.4},{"State":"UTTARAKHAND","Year":2002,"t":13.2},{"State":"UTTARAKHAND","Year":2003,"t":13.0},{"State":"UTTARAKHAND","Year":2004,"t":13.5},{"State":"UTTARAKHAND","Year":2005,"t":12.7},{"State":"UTTARAKHAND","Year":2006,"t":13.3},{"State":"UTTARAKHAND","Year":2007,"t":13.1},{"State":"UTTARAKHAND","Year":2008,"t":13.8},{"State":"UTTARAKHAND","Year":2009,"t":14.0},{"State":"UTTARAKHAND","Year":2010,"t":12.9},{"State":"UTTARAKHAND","Year":2011,"t":12.4},{"State":"UTTARAKHAND","Year":2012,"t":12.6},{"State":"UTTARAKHAND","Year":2013,"t":12.1},{"State":"UTTARAKHAND","Year":2014,"t":11.6},
{"State":"WEST BENGAL","Year":1982,"t":23.8},{"State":"WEST BENGAL","Year":1983,"t":25.2},{"State":"WEST BENGAL","Year":1984,"t":25.5},{"State":"WEST BENGAL","Year":1985,"t":25.8},{"State":"WEST BENGAL","Year":1986,"t":25.3},{"State":"WEST BENGAL","Year":1987,"t":25.0},{"State":"WEST BENGAL","Year":1988,"t":24.6},{"State":"WEST BENGAL","Year":1989,"t":25.2},{"State":"WEST BENGAL","Year":1990,"t":25.4},{"State":"WEST BENGAL","Year":1991,"t":24.8},{"State":"WEST BENGAL","Year":1992,"t":25.0},{"State":"WEST BENGAL","Year":1993,"t":25.6},{"State":"WEST BENGAL","Year":1994,"t":25.2},{"State":"WEST BENGAL","Year":1995,"t":25.9},{"State":"WEST BENGAL","Year":1996,"t":24.6},{"State":"WEST BENGAL","Year":1997,"t":23.8},{"State":"WEST BENGAL","Year":1998,"t":25.0},{"State":"WEST BENGAL","Year":1999,"t":25.4},{"State":"WEST BENGAL","Year":2000,"t":24.9},{"State":"WEST BENGAL","Year":2001,"t":25.2},{"State":"WEST BENGAL","Year":2002,"t":25.3},{"State":"WEST BENGAL","Year":2003,"t":25.6},{"State":"WEST BENGAL","Year":2004,"t":25.1},{"State":"WEST BENGAL","Year":2005,"t":24.9},{"State":"WEST BENGAL","Year":2006,"t":25.5},{"State":"WEST BENGAL","Year":2007,"t":25.7},{"State":"WEST BENGAL","Year":2008,"t":26.1},{"State":"WEST BENGAL","Year":2009,"t":25.4},{"State":"WEST BENGAL","Year":2010,"t":24.7},{"State":"WEST BENGAL","Year":2011,"t":25.6},{"State":"WEST BENGAL","Year":2012,"t":25.2},{"State":"WEST BENGAL","Year":2013,"t":24.8},{"State":"WEST BENGAL","Year":2014,"t":25.4}
]},
"vconcat":[{
"title":{"text":"summer_mean_temp","orient":"left","anchor":"middle","fontSize":14,"font":"Liberation Sans","fontWeight":"normal","color":"#000","offset":9},
"hconcat":[{
"title":{"text":"Year","orient":"bottom","anchor":"middle","fontSize":14,"font":"Liberation Sans","fontWeight":"normal","color":"#000","offset":7},
"data":{"name":"temps"},
"facet":{"field":"State","type":"nominal","header":{"labels":false,"title":null,"labelFontSize":0.1,"labelPadding":0,"labelLimit":1,"labelExpr":"''"}},
"columns":6,
"spacing":{"row":11,"column":11.3},
"spec":{
"width":80,"height":62,
"layer":[
{"mark":{"type":"line","color":"#4a6d96","strokeWidth":0.8},
"encoding":{
"x":{"field":"Year","type":"quantitative","scale":{"domain":[1979.3,2015.3],"nice":false,"zero":false},
"axis":{"values":[1980,1990,2000,2010],"tickCount":20,"format":"d","labelFontSize":5,"tickSize":2,"labelPadding":1,"labelOverlap":false,"grid":false,"domainColor":"#555","tickColor":"#555","domainWidth":0.6,"tickWidth":0.6,"labelColor":"#222","title":null}},
"y":{"field":"t","type":"quantitative","scale":{"domain":[6.4,36.9],"nice":false,"zero":false},
"axis":{"values":[10,15,20,25,30],"tickCount":20,"labelAngle":-90,"labelFontSize":5,"tickSize":2,"labelPadding":1,"labelOverlap":false,"grid":true,"gridColor":"#e3eaee","gridWidth":0.7,"domainColor":"#555","tickColor":"#555","domainWidth":0.6,"tickWidth":0.6,"labelColor":"#222","title":null}}}},
{"transform":[{"aggregate":[{"op":"count","as":"n"}],"groupby":["State"]}],
"mark":{"type":"rect","color":"#d9e4ea"},
"encoding":{"x":{"datum":1979.3},"x2":{"datum":2015.3},"y":{"datum":32.75},"y2":{"datum":36.9}}},
{"transform":[{"aggregate":[{"op":"count","as":"n"}],"groupby":["State"]}],
"mark":{"type":"text","fontSize":6.2,"color":"#111","font":"Liberation Sans"},
"encoding":{"x":{"datum":1997.3},"y":{"datum":34.85},"text":{"field":"State"}}}
]}
}]
}],
"config":{"font":"Liberation Sans","view":{"stroke":null,"fill":"white"},
"header":{"labels":false,"title":null,"labelFontSize":0.1,"labelPadding":0,"labelLimit":1},
"headerFacet":{"labels":false,"title":null,"labelFontSize":0.1,"labelPadding":0,"labelLimit":1}}
}
